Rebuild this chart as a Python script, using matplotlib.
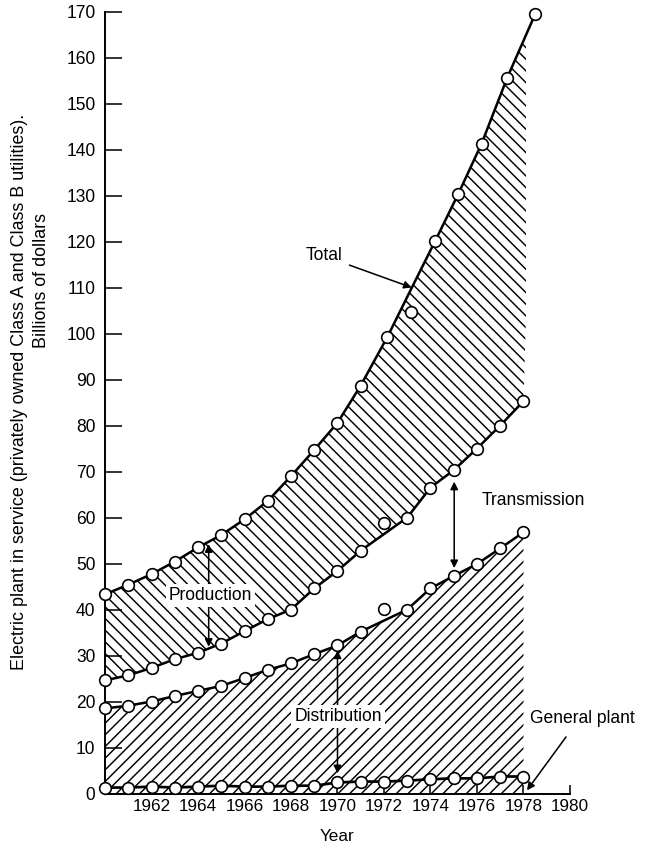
import matplotlib
matplotlib.use("Agg")
import matplotlib.pyplot as plt
from matplotlib.patches import Rectangle

plt.rcParams['font.family'] = ['Liberation Sans', 'DejaVu Sans']
plt.rcParams['hatch.linewidth'] = 0.75

# years of the lower series
years = [1960, 1961, 1962, 1963, 1964, 1965, 1966, 1967, 1968, 1969,
         1970, 1971, 1972, 1973, 1974, 1975, 1976, 1977, 1978]

# total plant (points drift a bit to the right in the original drawing)
total_x = [1960, 1961, 1962, 1963, 1964, 1965, 1966, 1967, 1968, 1969,
           1970, 1971, 1972.15, 1973.18, 1974.2, 1975.2, 1976.2, 1977.3, 1978.5]
total = [43.4, 45.5, 47.8, 50.5, 53.6, 56.3, 59.7, 63.7, 69.1, 74.8,
         80.7, 88.8, 99.4, 104.7, 120.2, 130.5, 141.4, 155.7, 169.5]
total_line = [43.4, 45.5, 47.8, 50.5, 53.6, 56.3, 59.7, 63.7, 69.1, 74.8,
              80.7, 88.8, 99.4, 109.9, 120.2, 130.5, 141.4, 155.7, 169.5]

# distribution + transmission
trans = [24.7, 25.8, 27.4, 29.3, 30.7, 32.7, 35.4, 38.0, 40.1, 44.7,
         48.5, 52.9, 59.0, 60.1, 66.6, 70.4, 75.1, 80.1, 85.4]
trans_line = [24.7, 25.8, 27.4, 29.3, 30.7, 32.7, 35.4, 38.0, 40.1, 44.7,
              48.5, 52.9, 56.5, 60.1, 66.6, 70.4, 75.1, 80.1, 85.4]

# distribution
dist = [18.6, 19.2, 20.1, 21.3, 22.4, 23.5, 25.2, 27.0, 28.4, 30.4,
        32.3, 35.3, 40.2, 40.1, 44.7, 47.4, 50.0, 53.4, 56.9]
dist_line = [18.6, 19.2, 20.1, 21.3, 22.4, 23.5, 25.2, 27.0, 28.4, 30.4,
             32.3, 35.3, 37.7, 40.1, 44.7, 47.4, 50.0, 53.4, 56.9]

# general plant
gen = [1.4, 1.4, 1.6, 1.4, 1.6, 1.8, 1.6, 1.6, 1.8, 1.8,
       2.5, 2.7, 2.7, 2.9, 3.2, 3.4, 3.4, 3.8, 3.8]

x_ticks = [1962, 1964, 1966, 1968, 1970, 1972, 1974, 1976, 1978, 1980]
y_ticks = list(range(0, 171, 10))

fig = plt.figure(figsize=(645 / 140, 850 / 140), dpi=140)
ax = fig.add_axes([0.1628, 0.0659, 0.7209, 0.92])

# hatched areas
prod = ax.fill(total_x + years[::-1], total_line + trans_line[::-1],
               facecolor='white', edgecolor='black', hatch='\\\\\\\\', linewidth=0, zorder=1)[0]
prod.set_clip_path(Rectangle((1959, -10), 19.1, 200, transform=ax.transData))
ax.fill_between(years, 0, dist_line, facecolor='white', edgecolor='black',
                hatch='////', linewidth=0, zorder=1)

# curves
ax.plot(total_x, total_line, color='black', lw=1.3, zorder=2, clip_on=False)
ax.plot(years, trans_line, color='black', lw=1.3, zorder=2)
ax.plot(years, dist_line, color='black', lw=1.3, zorder=2)
ax.plot(years, gen, color='black', lw=1.4, zorder=2, clip_on=False)

mk = dict(marker='o', ms=6, mfc='white', mec='black', mew=0.85, ls='none', zorder=3, clip_on=False)
ax.plot(total_x, total, **mk)
ax.plot(years, trans, **mk)
ax.plot(years, dist, **mk)
ax.plot(years, gen, **mk)

# labels and arrows
fs = 9
head = dict(color='black', lw=0.8, mutation_scale=8, shrinkA=0, shrinkB=0)
box = dict(facecolor='white', edgecolor='none', pad=1.5)

ax.annotate('Total', xy=(1973.19, 110.1), xytext=(1969.4, 117), fontsize=fs,
            ha='center', va='center',
            arrowprops=dict(arrowstyle='-|>', color='black', lw=0.8, mutation_scale=8, shrinkB=0))

ax.annotate('', xy=(1964.46, 54.3), xytext=(1964.46, 32.0),
            arrowprops=dict(arrowstyle='<|-|>', **head), zorder=4)
ax.text(1964.54, 43.1, 'Production', fontsize=fs, ha='center', va='center', bbox=box, zorder=5)

ax.annotate('', xy=(1975.02, 67.9), xytext=(1975.02, 49.1),
            arrowprops=dict(arrowstyle='<|-|>', **head), zorder=4)
ax.text(1976.18, 63.7, 'Transmission', fontsize=fs, ha='left', va='center', zorder=5)

ax.annotate('', xy=(1970.0, 31.2), xytext=(1970.0, 4.5),
            arrowprops=dict(arrowstyle='<|-|>', **head), zorder=4)
ax.text(1970.02, 16.8, 'Distribution', fontsize=fs, ha='center', va='center', bbox=box, zorder=5)

ax.annotate('', xy=(1978.15, 0.8), xytext=(1979.83, 12.4),
            arrowprops=dict(arrowstyle='-|>', **head), zorder=4, annotation_clip=False)
ax.text(1978.3, 16.4, 'General plant', fontsize=fs, ha='left', va='center', zorder=5)

# axes
ax.set_xlim(1960, 1980)
ax.set_ylim(0, 170)
ax.set_xticks(x_ticks)
ax.set_yticks(y_ticks)
ax.spines['top'].set_visible(False)
ax.spines['right'].set_visible(False)
ax.spines['left'].set_linewidth(1.0)
ax.spines['bottom'].set_linewidth(1.0)
ax.tick_params(axis='y', direction='in', length=8.5, width=0.8, pad=5, labelsize=9)
ax.tick_params(axis='x', direction='in', length=4.5, width=0.8, pad=2.5, labelsize=8.8)
ax.set_xlabel('Year', fontsize=8.8, labelpad=8)

fig.text(20 / 645, 1 - 392 / 850,
         'Electric plant in service (privately owned Class A and Class B utilities).',
         rotation=90, ha='center', va='center', fontsize=9.2)
fig.text(41 / 645, 1 - 280 / 850, 'Billions of dollars',
         rotation=90, ha='center', va='center', fontsize=9.2)

fig.savefig('out.png', dpi=140)
